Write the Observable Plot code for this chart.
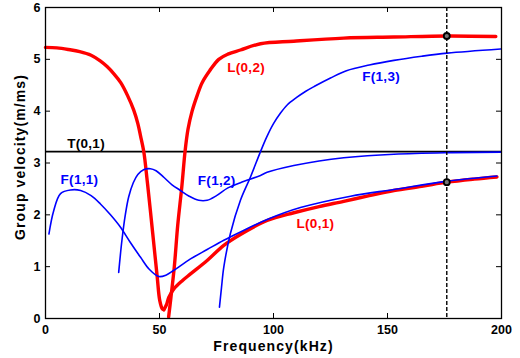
<!DOCTYPE html>
<html>
<head>
<meta charset="utf-8">
<script src="https://cdn.jsdelivr.net/npm/d3@7"></script>
<script src="https://cdn.jsdelivr.net/npm/@observablehq/plot@0.6"></script>
<style>
  html, body { margin: 0; padding: 0; background: #fff; }
  #chart svg { display: block; font-family: "Liberation Sans", Arial, sans-serif; }
</style>
</head>
<body>
<div id="chart"></div>
<script>
// ---- Data ----
const xTicks = [0, 50, 100, 150, 200];
const yTicks = [0, 1, 2, 3, 4, 5, 6];

// L(0,2) descending branch (low frequency)
const L02aFreq = [0, 5, 10, 15, 20, 24, 27, 30, 33, 36, 38.7, 40.5, 41.7, 43.1, 44.6, 46, 47.5, 49, 50.1, 51.2, 51.9];
const L02aVel  = [5.23, 5.22, 5.19, 5.15, 5.08, 4.97, 4.86, 4.72, 4.55, 4.3, 4.02, 3.76, 3.52, 3.22, 2.66, 2.08, 1.44, 0.8, 0.35, 0.19, 0.17];

// L(0,1)
const L01Freq = [51.9, 53, 54.1, 56.3, 60, 63.6, 70.9, 78.2, 85.5, 97.2, 108.9, 120, 130.8, 142, 152.8, 165, 176, 188, 198];
const L01Vel  = [0.17, 0.26, 0.41, 0.57, 0.73, 0.86, 1.12, 1.41, 1.62, 1.89, 2.04, 2.16, 2.26, 2.37, 2.47, 2.55, 2.63, 2.69, 2.73];

// L(0,2) rising branch
const L02bFreq = [54, 55, 56.5, 58, 59.8, 61.2, 62.5, 64.3, 66.5, 68.7, 72, 76, 80, 85.5, 94.3, 108.9, 130.8, 152.8, 176, 197.5];
const L02bVel  = [0.03, 0.4, 1.0, 1.8, 2.55, 3.22, 3.65, 4.0, 4.3, 4.55, 4.78, 5.0, 5.1, 5.18, 5.3, 5.35, 5.41, 5.43, 5.45, 5.44];

// F(1,1)
const F11Freq = [1.5, 3.6, 6.6, 11, 15.4, 20, 24.1, 28.5, 32.9, 37, 41.7, 45.5, 49.7, 53, 56.3, 63.6, 70.9, 78.2, 85.5, 97.2, 111.8, 133.8, 152.8, 176.2, 198];
const F11Vel  = [1.63, 2.08, 2.41, 2.48, 2.47, 2.37, 2.21, 2.0, 1.76, 1.48, 1.18, 0.95, 0.81, 0.84, 0.93, 1.15, 1.33, 1.51, 1.67, 1.91, 2.14, 2.36, 2.49, 2.65, 2.75];

// F(1,2)
const F12Freq = [32.1, 33.5, 35, 36.5, 38.5, 40.5, 43, 46, 48.5, 52, 55.5, 59.2, 63, 67.2, 70.9, 75, 80, 85.5, 94.3, 97.2, 108.9, 120, 130.8, 152.8, 176.2, 199.6];
const F12Vel  = [0.89, 1.5, 2.0, 2.35, 2.62, 2.78, 2.87, 2.89, 2.85, 2.72, 2.58, 2.47, 2.36, 2.28, 2.28, 2.37, 2.52, 2.62, 2.76, 2.82, 2.95, 3.04, 3.1, 3.17, 3.2, 3.21];

// F(1,3)
const F13Freq = [76.3, 77.2, 78.2, 81.1, 85.5, 89.9, 94.3, 97, 100, 103, 106, 110, 114, 118, 125, 132, 142, 152.8, 165, 176.2, 199.6];
const F13Vel  = [0.22, 0.6, 0.99, 1.64, 2.28, 2.73, 3.22, 3.5, 3.76, 3.96, 4.12, 4.26, 4.38, 4.48, 4.64, 4.78, 4.89, 4.98, 5.06, 5.12, 5.2];

// T(0,1)
const T01Vel = 3.22;

// Marked frequency and its points
const markFreq = 176;
const markVel = [5.45, 2.63];

// Curve labels
const labelText = ["L(0,2)", "F(1,3)", "T(0,1)", "F(1,1)", "F(1,2)", "L(0,1)"];
const labelFreq = [79.7, 138.9, 9.5, 6.6, 66.8, 110.1];
const labelVel  = [4.83, 4.66, 3.38, 2.68, 2.65, 1.83];
const labelColor = ["red", "blue", "black", "blue", "blue", "red"];

// ---- Build tables ----
const toPts = (fs, vs) => fs.map((f, i) => ({f, v: vs[i]}));
const L02a = toPts(L02aFreq, L02aVel);
const L01 = toPts(L01Freq, L01Vel);
const L02b = toPts(L02bFreq, L02bVel);
const F11 = toPts(F11Freq, F11Vel);
const F12 = toPts(F12Freq, F12Vel);
const F13 = toPts(F13Freq, F13Vel);
const labels = labelText.map((t, i) => ({t, f: labelFreq[i], v: labelVel[i], c: labelColor[i]}));
const points = markVel.map(v => ({f: markFreq, v}));

const W = 520, H = 358;
const mL = 45, mR = 19, mT = 7, mB = 40;
const iw = W - mL - mR, ih = H - mT - mB;
const tickLen = 5;

const redW = 3.4, blueW = 1.6;

const chart = Plot.plot({
  width: W,
  height: H,
  marginLeft: mL,
  marginRight: mR,
  marginTop: mT,
  marginBottom: mB,
  x: {domain: [0, 200]},
  y: {domain: [0, 6]},
  style: {fontFamily: "'Liberation Sans', Arial, sans-serif", background: "white"},
  marks: [
    // inward ticks, bottom/top
    Plot.tickX(xTicks.slice(1, -1), {x: d => d, insetTop: ih - tickLen, stroke: "black", strokeWidth: 1}),
    Plot.tickX(xTicks.slice(1, -1), {x: d => d, insetBottom: ih - tickLen, stroke: "black", strokeWidth: 1}),
    // inward ticks, left/right
    Plot.tickY(yTicks.slice(1, -1), {y: d => d, insetRight: iw - tickLen, stroke: "black", strokeWidth: 1}),
    Plot.tickY(yTicks.slice(1, -1), {y: d => d, insetLeft: iw - tickLen, stroke: "black", strokeWidth: 1}),
    Plot.axisX({ticks: xTicks, tickSize: 0, tickPadding: 7, fontSize: 12.5, fontWeight: "bold", label: null, tickFormat: d => String(d)}),
    Plot.axisY({ticks: yTicks, tickSize: 0, tickPadding: 5, fontSize: 12.5, fontWeight: "bold", label: null, tickFormat: d => String(d)}),
    // T(0,1)
    Plot.ruleY([T01Vel], {stroke: "black", strokeWidth: 1.6}),
    // red curves
    Plot.line(L02a, {x: "f", y: "v", stroke: "#ff0000", strokeWidth: redW, curve: "catmull-rom"}),
    Plot.line(L01, {x: "f", y: "v", stroke: "#ff0000", strokeWidth: redW, curve: "catmull-rom"}),
    Plot.line(L02b, {x: "f", y: "v", stroke: "#ff0000", strokeWidth: redW, curve: "catmull-rom"}),
    // blue curves
    Plot.line(F11, {x: "f", y: "v", stroke: "#0000ff", strokeWidth: blueW, curve: "catmull-rom"}),
    Plot.line(F12, {x: "f", y: "v", stroke: "#0000ff", strokeWidth: blueW, curve: "catmull-rom"}),
    Plot.line(F13, {x: "f", y: "v", stroke: "#0000ff", strokeWidth: blueW, curve: "catmull-rom"}),
    // dashed marker line
    Plot.ruleX([markFreq], {stroke: "black", strokeWidth: 1.4, strokeDasharray: "4,2"}),
    Plot.dot(points, {x: "f", y: "v", r: 3, stroke: "black", strokeWidth: 1.8, fill: "#777"}),
    // curve labels
    Plot.text(labels, {x: "f", y: "v", text: "t", fill: "c", textAnchor: "start", fontSize: 13.5, fontWeight: "bold"}),
    // frame
    Plot.frame({stroke: "black", strokeWidth: 1.3}),
    // axis titles
    Plot.text(["Frequency(kHz)"], {frameAnchor: "bottom", dy: 28, lineAnchor: "middle", textAnchor: "middle", fontSize: 14, fontWeight: "bold", fill: "black", className: "ttl"}),
    Plot.text(["Group velocity(m/ms)"], {frameAnchor: "left", dx: -25, dy: -6, rotate: -90, textAnchor: "middle", lineAnchor: "middle", fontSize: 14, fontWeight: "bold", fill: "black", className: "ttl"})
  ]
});

// bold, slightly wider MATLAB-like titles
d3.select(chart).selectAll(".ttl text").style("letter-spacing", "1.1px");
d3.select(chart).selectAll("[aria-label=text] text").filter(function() {
  return labelText.includes(this.textContent);
}).style("letter-spacing", "0.3px");

document.getElementById("chart").appendChild(chart);
</script>
</body>
</html>
